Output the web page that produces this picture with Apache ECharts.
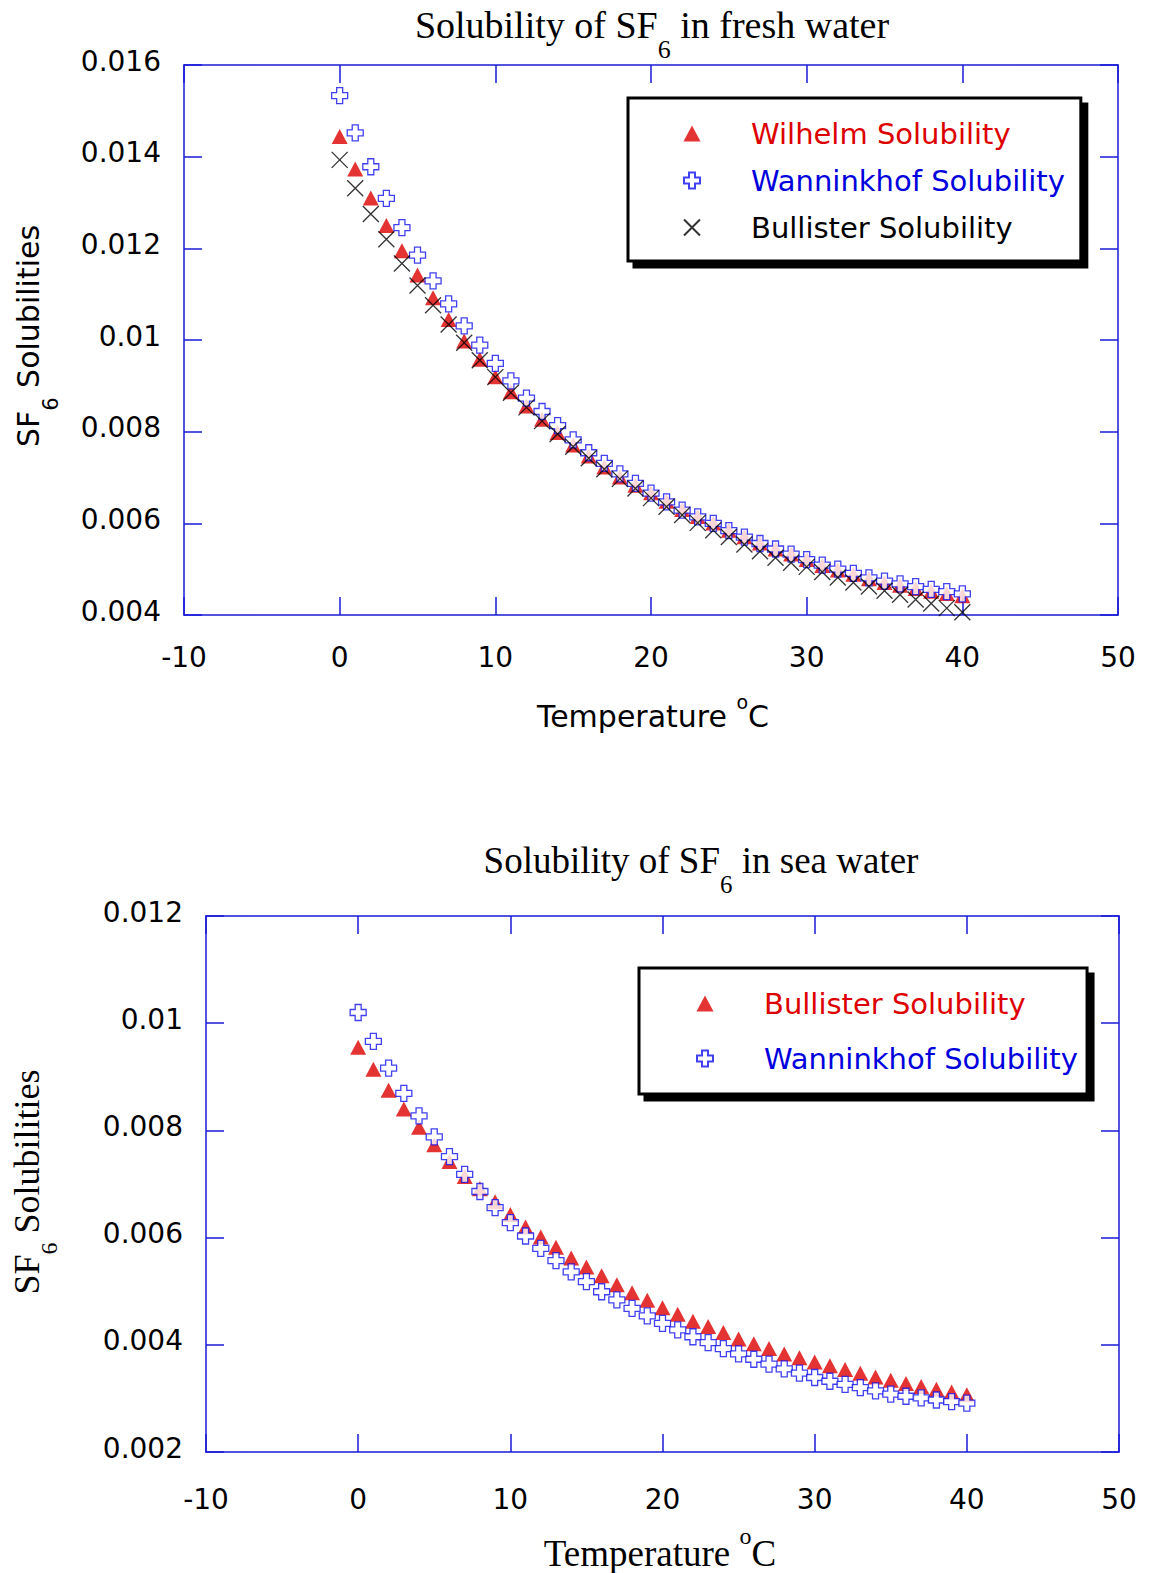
<!DOCTYPE html>
<html>
<head>
<meta charset="utf-8">
<script src="https://cdn.jsdelivr.net/npm/echarts@6/dist/echarts.min.js"></script>
<style>
html,body{margin:0;padding:0;background:#fff;}
#chart{width:1149px;height:1573px;}
</style>
</head>
<body>
<div id="chart"></div>
<script>
// ---------------- data ----------------
const temperatures = [0,1,2,3,4,5,6,7,8,9,10,11,12,13,14,15,16,17,18,19,20,21,22,23,24,25,26,27,28,29,30,31,32,33,34,35,36,37,38,39,40];

// fresh water
const freshWilhelm = [0.01444,0.01373,0.01310,0.01250,0.01195,0.01142,0.01092,0.01045,0.00998,0.00958,
  0.00920,0.00887,0.00856,0.00827,0.00798,0.00771,0.00747,0.00723,0.00701,0.00683,
  0.00667,0.00648,0.00630,0.00615,0.00601,0.00585,0.00571,0.00557,0.00544,0.00533,
  0.00521,0.00508,0.00498,0.00489,0.00479,0.00471,0.00465,0.00458,0.00452,0.00447,0.00442];
const freshWanninkhof = [0.01533,0.01452,0.01378,0.01309,0.01245,0.01185,0.01129,0.01079,0.01031,0.00989,
  0.00949,0.00911,0.00873,0.00844,0.00813,0.00782,0.00754,0.00731,0.00708,0.00687,
  0.00666,0.00647,0.00629,0.00614,0.00600,0.00584,0.00570,0.00556,0.00544,0.00533,
  0.00521,0.00509,0.00500,0.00491,0.00481,0.00474,0.00468,0.00462,0.00456,0.00451,0.00446];
const freshBullister = [0.01393,0.01331,0.01275,0.01220,0.01167,0.01119,0.01076,0.01034,0.00994,0.00956,
  0.00919,0.00885,0.00853,0.00823,0.00795,0.00767,0.00742,0.00718,0.00697,0.00676,
  0.00655,0.00636,0.00618,0.00601,0.00585,0.00570,0.00554,0.00539,0.00525,0.00514,
  0.00505,0.00494,0.00482,0.00471,0.00462,0.00453,0.00444,0.00434,0.00425,0.00415,0.00406];

// sea water
const seaBullister = [0.00955,0.00914,0.00875,0.00840,0.00806,0.00773,0.00742,0.00714,0.00691,0.00667,
  0.00643,0.00620,0.00601,0.00582,0.00562,0.00545,0.00529,0.00512,0.00497,0.00483,
  0.00469,0.00457,0.00444,0.00434,0.00423,0.00411,0.00402,0.00393,0.00383,0.00376,
  0.00368,0.00361,0.00354,0.00347,0.00340,0.00334,0.00328,0.00322,0.00317,0.00312,0.00307];
const seaWanninkhof = [0.01020,0.00966,0.00916,0.00869,0.00827,0.00788,0.00751,0.00718,0.00686,0.00656,
  0.00628,0.00603,0.00580,0.00557,0.00536,0.00518,0.00499,0.00484,0.00468,0.00454,
  0.00440,0.00428,0.00415,0.00404,0.00393,0.00383,0.00373,0.00364,0.00355,0.00347,
  0.00339,0.00332,0.00326,0.00320,0.00314,0.00308,0.00304,0.00301,0.00297,0.00294,0.00291];

// axis ticks
const xTickLabels = ['-10','0','10','20','30','40','50'];
const yTicksFresh = ['0.004','0.006','0.008','0.01','0.012','0.014','0.016'];
const yTicksSea = ['0.002','0.004','0.006','0.008','0.01','0.012'];

// ---------------- style ----------------
const AXIS_BLUE = '#1a1ad8';
const RED = '#dd0000';
const BLUE = '#0000dd';
const SANS = 'DejaVu Sans';
const SERIF = 'Liberation Serif';
const TRI = 'path://M8,0L16,15L0,15Z';
const PLUS = 'path://M5,0H11V5H16V11H11V16H5V11H0V5H5Z';
const XMARK = 'path://M0,0L16,16M16,0L0,16';

const pair = arr => temperatures.map((t, i) => [t, arr[i]]);
const fmt = v => String(+(+v).toFixed(4));

function xAx(grid, pos, withLabels, margin) {
  return {
    type: 'value', gridIndex: grid, position: pos,
    min: +xTickLabels[0], max: +xTickLabels[xTickLabels.length - 1], interval: 10,
    axisLine: { show: true, onZero: false, lineStyle: { color: AXIS_BLUE, width: 1.5 } },
    axisTick: { show: true, inside: true, length: 18, lineStyle: { color: AXIS_BLUE, width: 1.5 } },
    axisLabel: { show: withLabels, margin: margin, color: '#000', fontFamily: SANS, fontSize: 28,
      formatter: v => fmt(v) },
    splitLine: { show: false }
  };
}
function yAx(grid, pos, ticks, withLabels) {
  return {
    type: 'value', gridIndex: grid, position: pos,
    min: +ticks[0], max: +ticks[ticks.length - 1], interval: 0.002,
    axisLine: { show: true, onZero: false, lineStyle: { color: AXIS_BLUE, width: 1.5 } },
    axisTick: { show: true, inside: true, length: 18, lineStyle: { color: AXIS_BLUE, width: 1.5 } },
    axisLabel: { show: withLabels, margin: 23, color: '#000', fontFamily: SANS, fontSize: 28,
      verticalAlign: 'bottom', lineHeight: 8,
      formatter: v => fmt(v) },
    splitLine: { show: false }
  };
}

const triStyle = { color: RED, borderWidth: 0 };
const plusStyle = { color: '#ffffff', borderColor: '#1111ee', borderWidth: 1.3 };
const xStyle = { color: 'rgba(0,0,0,0)', borderColor: '#000000', borderWidth: 1.3 };

const chart = echarts.init(document.getElementById('chart'), null, { renderer: 'svg' });

const legendBase = {
  orient: 'vertical', itemWidth: 108, itemHeight: 16, selectedMode: false, symbolKeepAspect: true,
  backgroundColor: '#fff', borderColor: '#000', borderWidth: 3,
  shadowColor: '#000', shadowOffsetX: 6, shadowOffsetY: 6, shadowBlur: 0,
  textStyle: { fontFamily: SANS, fontSize: 29 }
};

const option = {
  animation: false,
  backgroundColor: '#ffffff',
  grid: [
    { left: 184, right: 31, top: 65, height: 550 },
    { left: 206, right: 30, top: 916, height: 536 }
  ],
  xAxis: [
    xAx(0, 'bottom', true, 28),
    xAx(0, 'top', false, 0),
    xAx(1, 'bottom', true, 33),
    xAx(1, 'top', false, 0)
  ],
  yAxis: [
    yAx(0, 'left', yTicksFresh, true),
    yAx(0, 'right', yTicksFresh, false),
    yAx(1, 'left', yTicksSea, true),
    yAx(1, 'right', yTicksSea, false)
  ],
  legend: [
    Object.assign({}, legendBase, {
      left: 628, top: 98, padding: [21, 16, 19, 55], itemGap: 18,
      data: [
        { name: 'Wilhelm Solubility', textStyle: { color: RED } },
        { name: 'Wanninkhof Solubility', textStyle: { color: BLUE } },
        { name: 'Bullister Solubility', textStyle: { color: '#000' } }
      ]
    }),
    Object.assign({}, legendBase, {
      left: 639, top: 968, padding: [21, 0, 21, 57], itemGap: 26,
      data: [
        { name: 'Bullister Solubility ', textStyle: { color: RED } },
        { name: 'Wanninkhof Solubility ', textStyle: { color: BLUE } }
      ]
    })
  ],
  series: [
    { name: 'Wilhelm Solubility', type: 'scatter', xAxisIndex: 0, yAxisIndex: 0,
      symbol: TRI, symbolSize: [16, 15], itemStyle: triStyle, silent: true, data: pair(freshWilhelm) },
    { name: 'Wanninkhof Solubility', type: 'scatter', xAxisIndex: 0, yAxisIndex: 0,
      symbol: PLUS, symbolSize: 16, itemStyle: plusStyle, silent: true, data: pair(freshWanninkhof) },
    { name: 'Bullister Solubility', type: 'scatter', xAxisIndex: 0, yAxisIndex: 0,
      symbol: XMARK, symbolSize: 16, itemStyle: xStyle, silent: true, data: pair(freshBullister) },
    { name: 'Bullister Solubility ', type: 'scatter', xAxisIndex: 2, yAxisIndex: 2,
      symbol: TRI, symbolSize: [16, 15], itemStyle: triStyle, silent: true, data: pair(seaBullister) },
    { name: 'Wanninkhof Solubility ', type: 'scatter', xAxisIndex: 2, yAxisIndex: 2,
      symbol: PLUS, symbolSize: 16, itemStyle: plusStyle, silent: true, data: pair(seaWanninkhof) }
  ],
  graphic: [
    { type: 'text', x: 652, y: 34, silent: true,
      style: { text: '{a|Solubility of SF}{s|6}{a| in fresh water}', align: 'center', verticalAlign: 'middle',
        rich: { a: { fontFamily: SERIF, fontSize: 38, lineHeight: 56, verticalAlign: 'top', fill: '#000' },
                s: { fontFamily: SERIF, fontSize: 26, lineHeight: 56, verticalAlign: 'bottom', fill: '#000' } } } },
    { type: 'text', x: 701, y: 869, silent: true,
      style: { text: '{a|Solubility of SF}{s|6}{a| in sea water}', align: 'center', verticalAlign: 'middle',
        rich: { a: { fontFamily: SERIF, fontSize: 37, lineHeight: 55, verticalAlign: 'top', fill: '#000' },
                s: { fontFamily: SERIF, fontSize: 25, lineHeight: 55, verticalAlign: 'bottom', fill: '#000' } } } },
    { type: 'text', x: 653, y: 712, silent: true,
      style: { text: '{a|Temperature }{o|o}{a|C}', align: 'center', verticalAlign: 'middle',
        rich: { a: { fontFamily: SANS, fontSize: 30, lineHeight: 39, verticalAlign: 'bottom', fill: '#000' },
                o: { fontFamily: SANS, fontSize: 19, lineHeight: 39, verticalAlign: 'top', fill: '#000' } } } },
    { type: 'text', x: 660, y: 1548, silent: true,
      style: { text: '{a|Temperature }{o|o}{a|C}', align: 'center', verticalAlign: 'middle',
        rich: { a: { fontFamily: SERIF, fontSize: 37, lineHeight: 48, verticalAlign: 'bottom', fill: '#000' },
                o: { fontFamily: SERIF, fontSize: 24, lineHeight: 48, verticalAlign: 'top', fill: '#000' } } } },
    { type: 'text', x: 37, y: 336, rotation: Math.PI / 2, silent: true,
      style: { text: '{a|SF}{s|6}{a| Solubilities}', align: 'center', verticalAlign: 'middle',
        rich: { a: { fontFamily: SANS, fontSize: 30, lineHeight: 48, verticalAlign: 'top', fill: '#000' },
                s: { fontFamily: SANS, fontSize: 21, lineHeight: 48, verticalAlign: 'bottom', fill: '#000' } } } },
    { type: 'text', x: 35, y: 1182, rotation: Math.PI / 2, silent: true,
      style: { text: '{a|SF}{s|6}{a| Solubilities}', align: 'center', verticalAlign: 'middle',
        rich: { a: { fontFamily: SERIF, fontSize: 36, lineHeight: 52, verticalAlign: 'top', fill: '#000' },
                s: { fontFamily: SERIF, fontSize: 24, lineHeight: 52, verticalAlign: 'bottom', fill: '#000' } } } }
  ]
};
chart.setOption(option);
</script>
</body>
</html>
